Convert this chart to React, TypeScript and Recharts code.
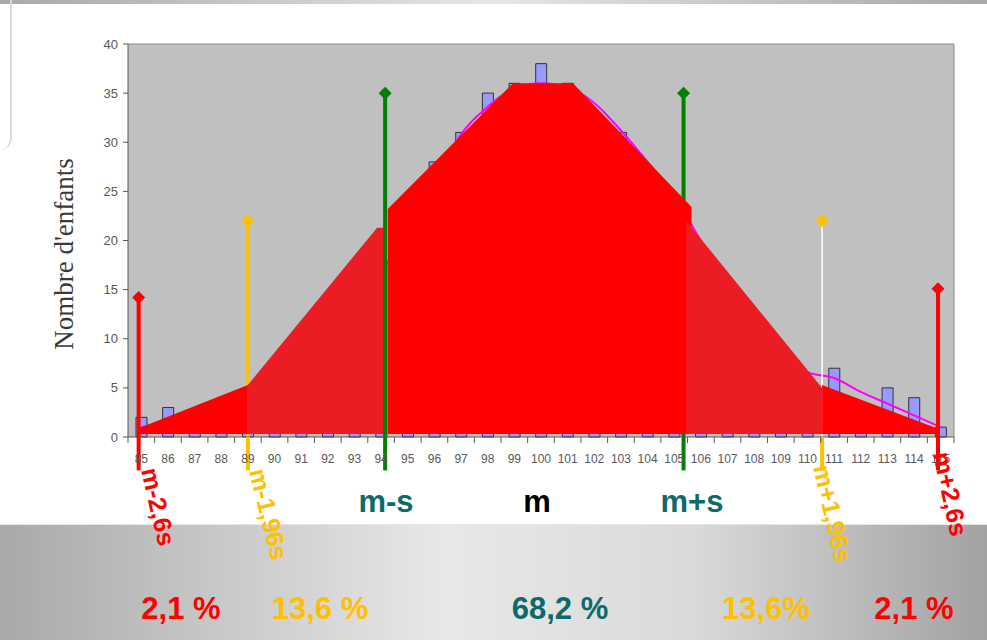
import {
  Area,
  Bar,
  CartesianGrid,
  ComposedChart,
  Line,
  ReferenceDot,
  ReferenceLine,
  XAxis,
  YAxis,
} from "recharts";

// histogram: score -> number of children
const scores = [
  85, 86, 87, 88, 89, 90, 91, 92, 93, 94, 95, 96, 97, 98, 99, 100, 101, 102, 103, 104, 105, 106,
  107, 108, 109, 110, 111, 112, 113, 114, 115,
];
const childCounts = [
  2, 3, 1, 2, 4, 6, 8, 11, 14, 18, 22, 28, 31, 35, 36, 38, 36, 33, 31, 27, 24, 19, 15, 12, 9, 6,
  7, 3, 5, 4, 1,
];
// fitted gaussian (magenta curve)
const fittedCurve = [
  1.0, 1.5, 2.2, 3.0, 4.2, 5.8, 7.8, 10.3, 13.3, 16.8, 21.0, 25.5, 30.8, 33.6, 35.5, 36.0, 35.6,
  34.0, 31.2, 28.0, 24.6, 20.0, 16.0, 12.6, 9.4, 6.6, 6.0, 4.6, 3.4, 2.2, 1.0,
];

// red filled zones under the curve
const tailLeftX = [84.9, 89.0];
const tailLeftY = [0.9, 5.3];
const shoulderLeftX = [89.0, 93.85, 94.1];
const shoulderLeftY = [5.3, 21.3, 21.3];
const centreX = [94.25, 98.95, 101.2, 105.65];
const centreY = [23.2, 36, 36, 23.4];
const shoulderRightX = [105.45, 110.55];
const shoulderRightY = [22, 5.0];
const tailRightX = [110.55, 114.85];
const tailRightY = [5.3, 0.9];

// m ± k·s markers
const markerNames = ["m-2,6s", "m-1,96s", "m-s", "m+s", "m+1,96s", "m+2,6s"];
const markerX = [84.9, 89.0, 94.15, 105.35, 110.55, 114.9];
const markerTop = [14.2, 22, 35, 35, 22, 15.1];
const BELOW_AXIS = -3.4;
const AREA_BASE = 0.3;

const yTicks = [0, 5, 10, 15, 20, 25, 30, 35, 40];
const xTicks = [...scores.flatMap((s) => [s - 0.5, s]), scores[scores.length - 1] + 0.5];
const X_DOMAIN = [84.5, 115.5];

const RED = "#ff0000";
const DARK_RED = "#ec1c24";
const YELLOW = "#ffc000";
const GREEN = "#008000";
const TEAL = "#0b6b6b";
const MARKER_COLORS = [RED, YELLOW, GREEN, GREEN, YELLOW, RED];
const UPPER_COLORS = [RED, YELLOW, GREEN, GREEN, "#ffffff", RED];
const UPPER_WIDTHS = [4, 3.5, 4, 4, 1.5, 4];
const FRONT = [true, false, true, false, false, true];
const SANS = "'Liberation Sans', Arial, sans-serif";

const chartData = scores.map((score, i) => ({
  score,
  count: childCounts[i],
  fit: fittedCurve[i],
}));
const toPoints = (xs: number[], ys: number[]) => xs.map((x, i) => ({ score: x, y: ys[i] }));

const zones = [
  { pts: toPoints(tailLeftX, tailLeftY), fill: RED },
  { pts: toPoints(shoulderLeftX, shoulderLeftY), fill: DARK_RED },
  { pts: toPoints(centreX, centreY), fill: RED },
  { pts: toPoints(shoulderRightX, shoulderRightY), fill: DARK_RED },
  { pts: toPoints(tailRightX, tailRightY), fill: RED },
];

function ScoreTick(props: any) {
  const { x, y, payload } = props;
  const v = payload.value;
  if (!Number.isInteger(v)) {
    return <line x1={x} x2={x} y1={y - 8} y2={y - 2} stroke="#595959" />;
  }
  return (
    <text x={x} y={y + 18} textAnchor="middle" fontSize={12} fill="#595959" fontFamily={SANS}>
      {v}
    </text>
  );
}

function Diamond(props: any) {
  const { cx, cy, fill } = props;
  const r = 6.5;
  return <polygon points={`${cx},${cy - r} ${cx + r},${cy} ${cx},${cy + r} ${cx - r},${cy}`} fill={fill} />;
}

function upperLine(i: number) {
  return (
    <ReferenceLine
      key={"up" + i}
      segment={[
        { x: markerX[i], y: 0 },
        { x: markerX[i], y: markerTop[i] },
      ]}
      stroke={UPPER_COLORS[i]}
      strokeWidth={UPPER_WIDTHS[i]}
      ifOverflow="visible"
      zIndex={FRONT[i] ? 500 : 80}
    />
  );
}

const rotatedLabels = [
  { x: 141, y: 470, a: 77 },
  { x: 249, y: 471, a: 76 },
  null,
  null,
  { x: 813, y: 467, a: 77 },
  { x: 933, y: 454, a: 78 },
];

const percents = [
  { t: "2,1 %", x: 181, c: RED },
  { t: "13,6 %", x: 320, c: YELLOW },
  { t: "68,2 %", x: 560, c: TEAL },
  { t: "13,6%", x: 766, c: YELLOW },
  { t: "2,1 %", x: 914, c: RED },
];

export default function App() {
  return (
    <div
      style={{
        position: "absolute",
        left: 0,
        top: 0,
        width: 987,
        height: 640,
        overflow: "hidden",
        background: "#ffffff",
      }}
    >
      <div
        style={{
          position: "absolute",
          left: 0,
          top: 0,
          width: 987,
          height: 4,
          background: "linear-gradient(to right, #a8a8a8, #e6e6e6 50%, #a8a8a8)",
        }}
      />
      <div
        style={{
          position: "absolute",
          left: 0,
          top: 0,
          width: 10,
          height: 150,
          borderRight: "2px solid #cfdde6",
          borderBottomRightRadius: 12,
        }}
      />
      <div
        style={{
          position: "absolute",
          left: 0,
          top: 524,
          width: 987,
          height: 116,
          background: "linear-gradient(to right, #a9a9a9 0%, #e8e8e8 45%, #dadada 70%, #a2a2a2 100%)",
          borderTop: "1px solid #e6e6e6",
        }}
      />
      <div style={{ position: "absolute", left: 0, top: 0 }}>
        <ComposedChart
          width={987}
          height={640}
          data={chartData}
          margin={{ top: 44, right: 33, bottom: 173, left: 78 }}
        >
          <CartesianGrid fill="#c0c0c0" horizontal={false} vertical={false} />
          <XAxis
            dataKey="score"
            type="number"
            domain={X_DOMAIN}
            ticks={xTicks}
            interval={0}
            height={30}
            tick={<ScoreTick />}
            tickLine={{ stroke: "none" }}
            axisLine={{ stroke: "#595959" }}
            allowDecimals
          />
          <XAxis xAxisId="zones" dataKey="score" type="number" domain={X_DOMAIN} hide />
          <YAxis
            domain={[0, 40]}
            ticks={yTicks}
            width={50}
            tickSize={5}
            tickMargin={5}
            interval={0}
            tick={{ fontSize: 13, fill: "#595959", fontFamily: SANS }}
            tickLine={{ stroke: "#595959" }}
            axisLine={{ stroke: "#595959" }}
          />
          <ReferenceLine y={40} stroke="#8c8c8c" />
          <ReferenceLine x={115.5} stroke="#8c8c8c" />
          <Bar
            dataKey="count"
            barSize={11}
            fill="#9999ff"
            stroke="#333333"
            strokeWidth={1}
            isAnimationActive={false}
            zIndex={50}
          />
          <Line
            dataKey="fit"
            type="monotone"
            stroke="#ff00ff"
            strokeWidth={2}
            dot={false}
            isAnimationActive={false}
            zIndex={60}
          />
          {markerX.map((_, i) => (FRONT[i] ? null : upperLine(i)))}
          {zones.map((z, i) => (
            <Area
              key={"z" + i}
              xAxisId="zones"
              data={z.pts}
              dataKey="y"
              type="linear"
              baseValue={AREA_BASE}
              fill={z.fill}
              fillOpacity={1}
              stroke="none"
              isAnimationActive={false}
              zIndex={100 + i}
            />
          ))}
          {markerX.map((_, i) => (FRONT[i] ? upperLine(i) : null))}
          {markerX.map((x, i) => (
            <ReferenceLine
              key={"lo" + i}
              segment={[
                { x, y: BELOW_AXIS },
                { x, y: 0 },
              ]}
              stroke={MARKER_COLORS[i]}
              strokeWidth={4}
              ifOverflow="visible"
              zIndex={600}
            />
          ))}
          {markerX.map((x, i) => (
            <ReferenceDot
              key={"d" + i}
              x={x}
              y={markerTop[i]}
              r={6}
              fill={MARKER_COLORS[i]}
              stroke="none"
              ifOverflow="visible"
              shape={<Diamond />}
              zIndex={700}
            />
          ))}
        </ComposedChart>
      </div>
      <svg
        width={987}
        height={640}
        style={{ position: "absolute", left: 0, top: 0, pointerEvents: "none" }}
      >
        <text
          transform="translate(73,254) rotate(-90)"
          textAnchor="middle"
          fontSize={27}
          fill="#3a3a3a"
          fontFamily="'Liberation Serif', 'Times New Roman', serif"
        >
          Nombre d'enfants
        </text>
        {rotatedLabels.map((p, i) =>
          p ? (
            <text
              key={i}
              transform={`translate(${p.x},${p.y}) rotate(${p.a})`}
              fontSize={25}
              fontWeight="bold"
              fill={MARKER_COLORS[i]}
              fontFamily={SANS}
            >
              {markerNames[i]}
            </text>
          ) : null
        )}
        <text x={386} y={512} textAnchor="middle" fontSize={31} fontWeight="bold" fill={TEAL} fontFamily={SANS}>
          {markerNames[2]}
        </text>
        <text x={537} y={512} textAnchor="middle" fontSize={31} fontWeight="bold" fill="#000000" fontFamily={SANS}>
          m
        </text>
        <text x={692} y={512} textAnchor="middle" fontSize={31} fontWeight="bold" fill={TEAL} fontFamily={SANS}>
          {markerNames[3]}
        </text>
        {percents.map((p, i) => (
          <text key={i} x={p.x} y={619} textAnchor="middle" fontSize={31} fontWeight="bold" fill={p.c} fontFamily={SANS}>
            {p.t}
          </text>
        ))}
      </svg>
    </div>
  );
}
